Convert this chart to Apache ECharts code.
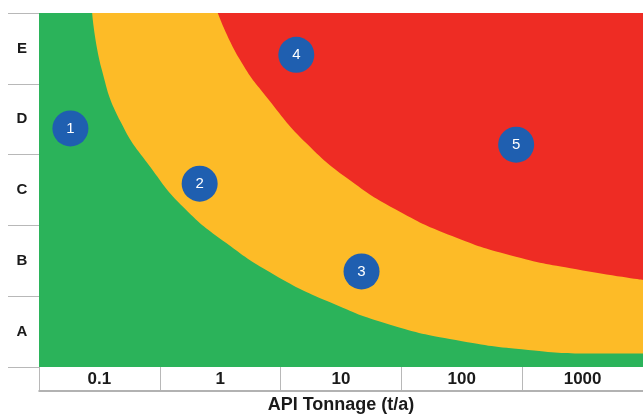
<!DOCTYPE html>
<html>
<head>
<meta charset="utf-8">
<script src="https://cdn.jsdelivr.net/npm/echarts@6/dist/echarts.min.js"></script>
<style>html,body{margin:0;padding:0;background:#fff;}#c{width:643px;height:414px;}</style>
</head>
<body>
<div id="c"></div>
<script>
// Axis categories
const xLabels = ['0.1', '1', '10', '100', '1000'];
const yLabels = ['A', 'B', 'C', 'D', 'E'];
// Zone boundaries in band units (x: 0..5 across tonnage bands, y: 0..5 across A..E rows)
const greenYellowBoundary = [
  [0.44, 5.0], [0.52, 4.2], [0.68, 3.45], [0.92, 2.83], [1.20, 2.25],
  [1.55, 1.75], [1.95, 1.30], [2.40, 0.92], [2.90, 0.60], [3.45, 0.38],
  [4.05, 0.24], [4.60, 0.19], [5.0, 0.19]
];
const yellowRedBoundary = [
  [1.48, 5.0], [1.66, 4.35], [1.90, 3.78], [2.22, 3.15], [2.58, 2.63],
  [2.98, 2.20], [3.42, 1.85], [3.90, 1.58], [4.45, 1.38], [5.0, 1.23]
];
// Numbered markers
const markerIds = ['1', '2', '3', '4', '5'];
const markerX = [0.26, 1.33, 2.67, 2.13, 3.95];
const markerY = [3.37, 2.59, 1.35, 4.41, 3.14];

const chart = echarts.init(document.getElementById('c'));
const textColor = '#1a1a1a';
const gridLineColor = '#b8b8b8';

chart.setOption({
  animation: false,
  grid: {
    left: 39, right: 0, top: 13, bottom: 47,
    outerBoundsMode: 'none', containLabel: false,
    show: true, backgroundColor: '#2bb35a', borderWidth: 0
  },
  xAxis: [
    {
      type: 'category', data: xLabels, position: 'bottom', boundaryGap: true,
      axisLine: { show: false },
      axisTick: { show: true, length: 23, lineStyle: { color: gridLineColor } },
      axisLabel: { fontFamily: 'Liberation Sans', fontWeight: 'bold', fontSize: 17, color: textColor, margin: 4 },
      splitLine: { show: false },
      name: 'API Tonnage (t/a)', nameLocation: 'middle', nameGap: 29,
      nameTextStyle: { fontFamily: 'Liberation Sans', fontWeight: 'bold', fontSize: 18, color: textColor }
    },
    {
      type: 'value', min: 0, max: 5, position: 'bottom', offset: 24,
      axisLine: { show: true, lineStyle: { color: '#999', width: 1.5 } },
      axisTick: { show: false }, axisLabel: { show: false }, splitLine: { show: false }
    }
  ],
  yAxis: [
    {
      type: 'category', data: yLabels, boundaryGap: true,
      axisLine: { show: false },
      axisTick: { show: true, length: 31, lineStyle: { color: gridLineColor } },
      axisLabel: { fontFamily: 'Liberation Sans', fontWeight: 'bold', fontSize: 15, color: textColor, align: 'center', margin: 17 },
      splitLine: { show: false }
    },
    { type: 'value', min: 0, max: 5, show: false }
  ],
  series: [
    {
      type: 'line', xAxisIndex: 1, yAxisIndex: 1, data: greenYellowBoundary,
      smooth: 0.5, symbol: 'none', z: 2,
      lineStyle: { width: 0 },
      areaStyle: { color: '#fdbb27', opacity: 1, origin: 'end' },
      silent: true
    },
    {
      type: 'line', xAxisIndex: 1, yAxisIndex: 1, data: yellowRedBoundary,
      smooth: 0.5, symbol: 'none', z: 3,
      lineStyle: { width: 0 },
      areaStyle: { color: '#ee2c24', opacity: 1, origin: 'end' },
      silent: true
    },
    {
      type: 'scatter', xAxisIndex: 1, yAxisIndex: 1, z: 10,
      data: markerIds.map((id, i) => ({ name: id, value: [markerX[i], markerY[i]] })),
      symbolSize: 36,
      itemStyle: { color: '#1f5fb0', opacity: 1 },
      label: {
        show: true, position: 'inside', formatter: p => p.name,
        color: '#ffffff', fontFamily: 'Liberation Sans', fontSize: 15
      }
    }
  ]
});
</script>
</body>
</html>
